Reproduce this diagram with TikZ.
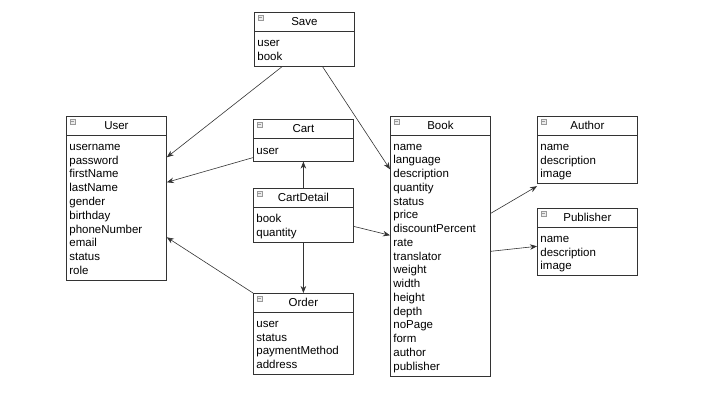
\documentclass[tikz,border=0pt]{standalone}
\usepackage{fontspec}
\setmainfont{Liberation Sans}
\usetikzlibrary{arrows.meta,
                positioning}

\begin{document}
\begin{tikzpicture}%
            [x = 1pt, y = -1pt,
             classhead/.style = {draw = black!80, line width = 0.8pt, minimum width = 100pt,
                                 minimum height = 18.5pt, inner sep = 0pt,
                                 font = \fontsize{11.5}{13.8}\selectfont,
                                 path picture = {\draw [gray!80, fill = gray!15, line width = 0.4pt]
                                     ([shift={(3.5pt,-2.5pt)}]path picture bounding box.north west)
                                     rectangle ++(5.5pt,-5.5pt);
                                   \draw [gray!80, line width = 0.5pt]
                                     ([shift={(4.7pt,-5.25pt)}]path picture bounding box.north west)
                                     -- ++(3.1pt,0pt);}},
             classbody/.style = {draw = black!80, line width = 0.8pt, text width = 94pt,
                                 inner xsep = 3pt, inner ysep = 3pt, align = left,
                                 font = \fontsize{11.5}{13.8}\selectfont,
                                 execute at begin node = \rule{0pt}{11.5pt},
                                 execute at end node = \rule[-3pt]{0pt}{3pt}},
             link/.style = {draw = black!80, line width = 0.6pt,
                            -{Stealth[length = 7pt, width = 5.5pt]}}]
            \useasboundingbox (0,0) rectangle (723,405);

            \node [classhead, anchor = north west] (save) at (254,12) {Save};
            \node [classbody, below = 0pt of save] (savebody) {user\\book};

            \node [classhead, anchor = north west] (user) at (66,116) {User};
            \node [classbody, below = 0pt of user] (userbody) {username\\password\\firstName\\lastName\\gender\\birthday\\phoneNumber\\email\\status\\role};

            \node [classhead, anchor = north west] (cart) at (253,119) {Cart};
            \node [classbody, below = 0pt of cart, inner ysep = 4pt] (cartbody) {user};

            \node [classhead, anchor = north west] (cartdetail) at (253,188) {CartDetail};
            \node [classbody, below = 0pt of cartdetail] (cartdetailbody) {book\\quantity};

            \node [classhead, anchor = north west] (order) at (253,293) {Order};
            \node [classbody, below = 0pt of order] (orderbody) {user\\status\\paymentMethod\\address};

            \node [classhead, anchor = north west] (book) at (390,116) {Book};
            \node [classbody, below = 0pt of book, font = \fontsize{11.5}{13.75}\selectfont] (bookbody) {name\\language\\description\\quantity\\status\\price\\discountPercent\\rate\\translator\\weight\\width\\height\\depth\\noPage\\form\\author\\publisher};

            \node [classhead, anchor = north west] (author) at (537,116) {Author};
            \node [classbody, below = 0pt of author] (authorbody) {name\\description\\image};

            \node [classhead, anchor = north west] (publisher) at (537,208) {Publisher};
            \node [classbody, below = 0pt of publisher] (publisherbody) {name\\description\\image};

            % relations
            \draw [link] ([xshift=-22pt]savebody.south) -- ([yshift=-22pt]userbody.north east);
            \draw [link] ([xshift=18pt]savebody.south) -- ([yshift=-34pt]bookbody.north west);
            \draw [link] ([yshift=4pt]cartbody.south west) -- ([yshift=-47pt]userbody.north east);
            \draw [link] (cartdetail.north) -- (cartbody.south);
            \draw [link] ([yshift=16pt]cartdetailbody.south east) -- ([yshift=-100pt]bookbody.north west);
            \draw [link] (cartdetailbody.south) -- (order.north);
            \draw [link] (order.north west) -- ([yshift=-102pt]userbody.north east);
            \draw [link] ([yshift=-78pt]bookbody.north east) -- ([yshift=-2pt]authorbody.south west);
            \draw [link] ([yshift=-116pt]bookbody.north east) -- ([yshift=-19pt]publisherbody.north west);

        \end{tikzpicture}
\end{document}
